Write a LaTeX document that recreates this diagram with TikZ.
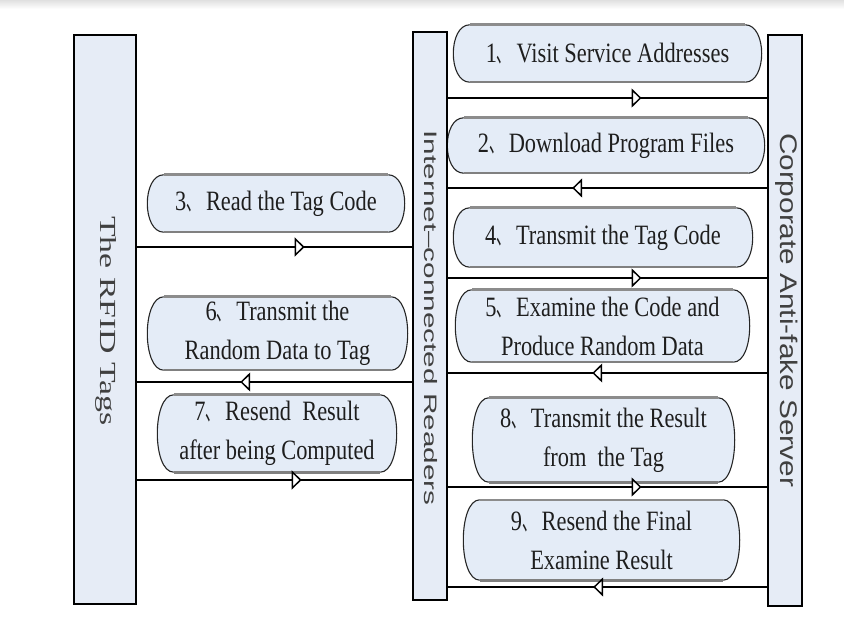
\documentclass[tikz,border=0pt]{standalone}
\usepackage{graphicx}
\usepackage{fontspec}
\setmainfont{Liberation Serif}[FakeStretch=0.8]
\newfontfamily\barserif{Liberation Serif}
\newfontfamily\barsans{Liberation Sans}
\newfontfamily\cjk{Noto Sans CJK SC}
\usetikzlibrary{arrows.meta,decorations.markings,backgrounds}
\newcommand\dunh{\scalebox{0.5}[1]{\cjk 、}\ }
\definecolor{barfill}{HTML}{E6ECF6}
\definecolor{boxfill}{HTML}{E4ECF7}
\definecolor{txt}{HTML}{1E1E1E}
\definecolor{bartxt}{HTML}{404040}
\tikzset{
  bar/.style={draw=black, line width=2.8pt, fill=barfill, inner sep=0pt},
  stepbox/.style={inner sep=0pt, align=center, font=\fontsize{28}{39}\selectfont, text=txt},
  conn/.style={line width=2.6pt, draw=black},
  tipfwd/.style={postaction={decorate}, decoration={markings, mark=at position #1 with {\arrow{Triangle[length=10pt,width=19pt,fill=white,line width=1.5pt]}}}},
  tipbwd/.style={postaction={decorate}, decoration={markings, mark=at position #1 with {\arrowreversed{Triangle[length=10pt,width=19pt,fill=white,line width=1.5pt]}}}},
}
\newcommand\boxshape[1]{%
  \begin{pgfonlayer}{background}
  \fill[boxfill] (#1.north west) -- (#1.north east) .. controls +(22,0) and +(22,0) .. (#1.south east) -- (#1.south west) .. controls +(-22,0) and +(-22,0) .. cycle;
  \draw[line width=1.1pt, black!85] (#1.north east) .. controls +(22,0) and +(22,0) .. (#1.south east);
  \draw[line width=1.1pt, black!85] (#1.south west) .. controls +(-22,0) and +(-22,0) .. (#1.north west);
  \draw[line width=2.6pt, black!45] (#1.north west) -- (#1.north east);
  \draw[line width=2.6pt, black!50] (#1.south west) -- (#1.south east);
  \end{pgfonlayer}}
\begin{document}
\begin{tikzpicture}[x=1pt,y=-1pt]
\useasboundingbox (0,0) rectangle (844,644);
\begin{pgfonlayer}{background}
\shade[top color=black!12, bottom color=white] (0,0) rectangle (844,9);
\end{pgfonlayer}
% bars
\node[bar, minimum width=62, minimum height=569] (tags) at (105,319.5) {};
\node[bar, minimum width=34, minimum height=568] (readers) at (430,316) {};
\node[bar, minimum width=34, minimum height=571] (server) at (785,320.5) {};
\node[rotate=-90, text=bartxt, font=\barserif\fontsize{23}{23}\selectfont] (tagslbl) at (106,321) {\scalebox{1.47}[1]{The RFID Tags}};
\node[rotate=-90, text=bartxt, font=\barsans\fontsize{18}{18}\selectfont] (readerslbl) at (431,318) {\scalebox{1.65}[1]{Internet–connected Readers}};
\node[rotate=-90, text=bartxt, font=\barsans\fontsize{24}{24}\selectfont] (serverlbl) at (787,310) {\scalebox{1.24}[1]{Corporate Anti-fake Server}};
% step boxes
\node[stepbox, minimum width=275, minimum height=57] (b1) at (607.5,53.5) {1\dunh Visit Service Addresses};
\node[stepbox, minimum width=284, minimum height=55] (b2) at (606,145.5) {2\dunh Download Program Files};
\node[stepbox, minimum width=266, minimum height=59] (b4) at (603,237.5) {4\dunh Transmit the Tag Code};
\node[stepbox, minimum width=261, minimum height=72] (b5) at (602.5,326) {5\dunh Examine the Code and\\Produce Random Data};
\node[stepbox, minimum width=229, minimum height=84] (b8) at (603.5,440) {8\dunh Transmit the Result\\from\ \ the Tag};
\node[stepbox, minimum width=243, minimum height=80] (b9) at (601.5,540) {9\dunh Resend the Final\\Examine Result};
\node[stepbox, minimum width=224, minimum height=57] (b3) at (276,203.5) {3\dunh Read the Tag Code};
\node[stepbox, minimum width=227, minimum height=73] (b6) at (277.5,333.5) {6\dunh Transmit the\\Random Data to Tag};
\node[stepbox, minimum width=206, minimum height=77] (b7) at (277,433.5) {7\dunh Resend\ \ Result\\after being Computed};
\boxshape{b1}\boxshape{b2}\boxshape{b4}\boxshape{b5}\boxshape{b8}\boxshape{b9}
\boxshape{b3}\boxshape{b6}\boxshape{b7}
% connector heights
\coordinate (y1) at (0,98);
\coordinate (y2) at (0,188);
\coordinate (y4) at (0,278);
\coordinate (y5) at (0,373);
\coordinate (y8) at (0,487);
\coordinate (y9) at (0,587);
\coordinate (y3) at (0,247);
\coordinate (y6) at (0,382);
\coordinate (y7) at (0,480);
% connectors
\draw[conn, tipfwd=0.607] (readers.east |- y1) -- (server.west |- y1);
\draw[conn, tipbwd=0.389] (readers.east |- y2) -- (server.west |- y2);
\draw[conn, tipfwd=0.607] (readers.east |- y4) -- (server.west |- y4);
\draw[conn, tipbwd=0.452] (readers.east |- y5) -- (server.west |- y5);
\draw[conn, tipfwd=0.607] (readers.east |- y8) -- (server.west |- y8);
\draw[conn, tipbwd=0.455] (readers.east |- y9) -- (server.west |- y9);
\draw[conn, tipfwd=0.610] (tags.east |- y3) -- (readers.west |- y3);
\draw[conn, tipbwd=0.375] (tags.east |- y6) -- (readers.west |- y6);
\draw[conn, tipfwd=0.599] (tags.east |- y7) -- (readers.west |- y7);
\end{tikzpicture}
\end{document}
